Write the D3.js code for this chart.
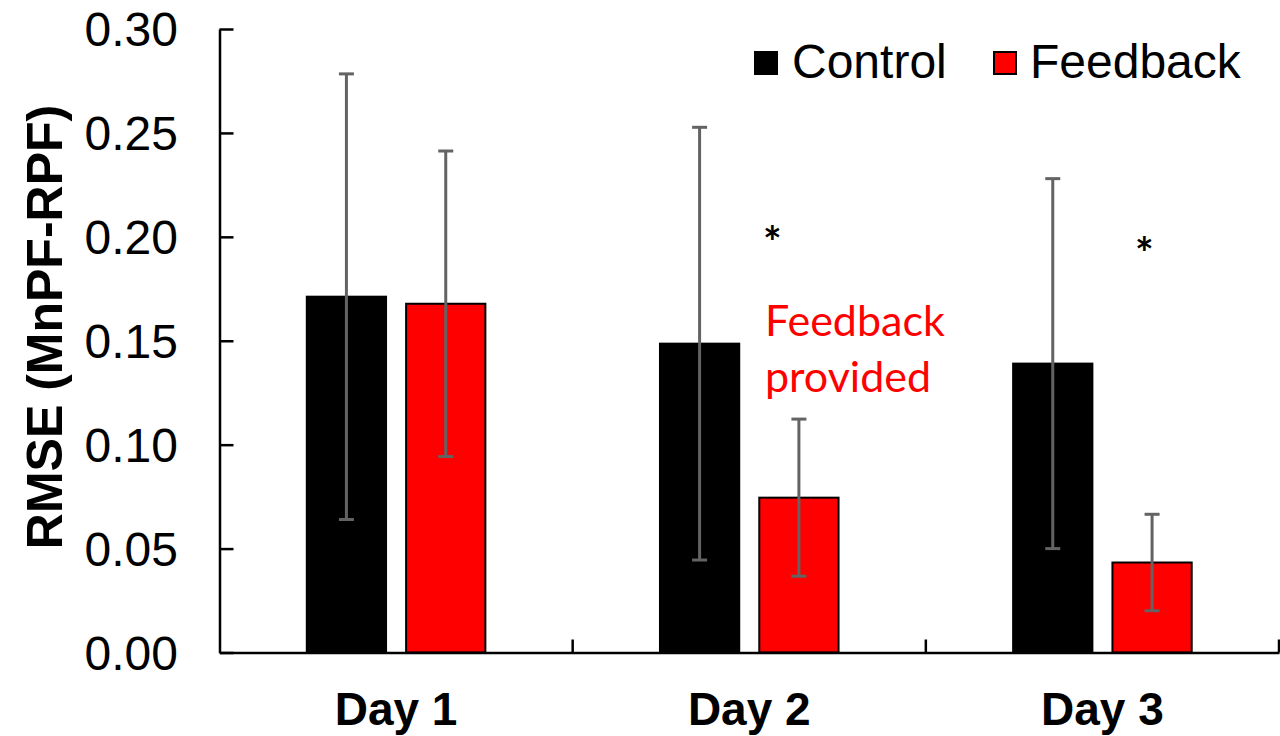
<!DOCTYPE html>
<html>
<head>
<meta charset="utf-8">
<script src="https://cdn.jsdelivr.net/npm/d3@7/dist/d3.min.js"></script>
<style>
  html, body { margin: 0; padding: 0; background: #fff; }
  svg { display: block; }
</style>
</head>
<body>
<svg id="chart" width="1280" height="736"></svg>
<script>
// RMSE per day for the two groups (mean and standard deviation)
const days = ["Day 1", "Day 2", "Day 3"];
const groups = ["Control", "Feedback"];
const controlMean = [0.1712, 0.1486, 0.1390];
const controlSD = [0.1072, 0.1041, 0.0890];
const feedbackMean = [0.1678, 0.0745, 0.0433];
const feedbackSD = [0.0735, 0.0378, 0.0232];
const yTicks = [0, 0.05, 0.10, 0.15, 0.20, 0.25, 0.30];
const starDays = ["Day 2", "Day 3"];
const starValues = [0.2030, 0.1978];

const colors = { Control: "#000000", Feedback: "#ff0000" };

const rows = [];
days.forEach((d, i) => {
  rows.push({ day: d, group: "Control", mean: controlMean[i], sd: controlSD[i] });
  rows.push({ day: d, group: "Feedback", mean: feedbackMean[i], sd: feedbackSD[i] });
});

const svg = d3.select("#chart");
const plotLeft = 219.5, plotRight = 1279, plotTop = 29, plotBottom = 652.5;

const x = d3.scaleBand().domain(days).range([plotLeft, plotRight]).padding(0);
const xInner = d3.scaleBand().domain(groups).range([0, x.bandwidth()])
  .paddingInner(0.202).paddingOuter(0.879);
const y = d3.scaleLinear().domain([0, 0.30]).range([plotBottom, plotTop]);

const axisFont = "'Liberation Sans', Arial, sans-serif";

// Bars
svg.append("g").selectAll("rect").data(rows).join("rect")
  .attr("x", d => x(d.day) + xInner(d.group))
  .attr("y", d => y(d.mean))
  .attr("width", xInner.bandwidth())
  .attr("height", d => y(0) - y(d.mean))
  .attr("fill", d => colors[d.group])
  .attr("stroke", "#000")
  .attr("stroke-width", 2);

// Error bars
const eb = svg.append("g").attr("stroke", "#636363").attr("stroke-width", 3);
rows.forEach(d => {
  const cx = x(d.day) + xInner(d.group) + xInner.bandwidth() / 2;
  const y1 = y(d.mean + d.sd), y0 = y(d.mean - d.sd);
  eb.append("line").attr("x1", cx).attr("x2", cx).attr("y1", y1).attr("y2", y0);
  eb.append("line").attr("x1", cx - 7.5).attr("x2", cx + 7.5).attr("y1", y1).attr("y2", y1);
  eb.append("line").attr("x1", cx - 7.5).attr("x2", cx + 7.5).attr("y1", y0).attr("y2", y0);
});

// Y axis (ticks pointing inward)
const yAxis = svg.append("g")
  .attr("transform", `translate(${plotLeft},0)`)
  .call(d3.axisRight(y).tickValues(yTicks).tickSize(14).tickSizeOuter(0).tickFormat(""));
yAxis.select(".domain").attr("stroke", "#000").attr("stroke-width", 2.5);
yAxis.selectAll(".tick line").attr("stroke", "#000").attr("stroke-width", 2.5);

svg.append("g").selectAll("text").data(yTicks).join("text")
  .attr("x", 178)
  .attr("y", d => y(d))
  .attr("dy", "0.36em")
  .attr("text-anchor", "end")
  .attr("font-family", axisFont)
  .attr("font-size", 48)
  .attr("fill", "#000")
  .text(d => d3.format(".2f")(d));

// X axis (ticks at category boundaries, pointing up)
const xAxis = svg.append("g")
  .attr("transform", `translate(0,${plotBottom})`)
  .call(d3.axisTop(x).tickSize(0).tickSizeOuter(0).tickFormat(""));
xAxis.select(".domain").attr("stroke", "#000").attr("stroke-width", 2.5);
xAxis.selectAll(".tick line").remove();
svg.append("g").selectAll("line").data(days).join("line")
  .attr("x1", d => x(d) + x.bandwidth())
  .attr("x2", d => x(d) + x.bandwidth())
  .attr("y1", plotBottom)
  .attr("y2", plotBottom - 13)
  .attr("stroke", "#000")
  .attr("stroke-width", 2.5);

svg.append("g").selectAll("text").data(days).join("text")
  .attr("x", d => x(d) + x.bandwidth() / 2)
  .attr("y", 725)
  .attr("text-anchor", "middle")
  .attr("font-family", axisFont)
  .attr("font-weight", "bold")
  .attr("font-size", 46)
  .attr("fill", "#000")
  .text(d => d);

// Y axis title
svg.append("text")
  .attr("transform", "translate(62,327) rotate(-90)")
  .attr("text-anchor", "middle")
  .attr("font-family", axisFont)
  .attr("font-weight", "bold")
  .attr("font-size", 50)
  .attr("fill", "#000")
  .text("RMSE (MnPF-RPF)");

// Legend
const legendItems = [
  { name: "Control", sx: 755, tx: 792 },
  { name: "Feedback", sx: 994, tx: 1030 }
];
const lg = svg.append("g");
legendItems.forEach(it => {
  lg.append("rect")
    .attr("x", it.sx).attr("y", 52).attr("width", 22).attr("height", 22)
    .attr("fill", colors[it.name]).attr("stroke", "#000").attr("stroke-width", 2);
  lg.append("text")
    .attr("x", it.tx).attr("y", 78)
    .attr("font-family", axisFont)
    .attr("font-size", 48)
    .attr("fill", "#000")
    .text(it.name);
});

// Significance markers
const starOffset = { "Day 2": 23, "Day 3": 42 };
svg.append("g").selectAll("text").data(starDays).join("text")
  .attr("x", (d) => x(d) + x.bandwidth() / 2 + starOffset[d])
  .attr("y", (d, i) => y(starValues[i]))
  .attr("dy", "0.62em")
  .attr("text-anchor", "middle")
  .attr("font-family", "Lato, 'Open Sans', sans-serif")
  .attr("font-weight", "bold")
  .attr("font-size", 44)
  .attr("fill", "#000")
  .text("*");

// Annotation
const note = svg.append("text")
  .attr("font-family", "Lato, 'Open Sans', sans-serif")
  .attr("font-size", 43)
  .attr("fill", "#ff0000");
note.append("tspan").attr("x", 765).attr("y", 336).text("Feedback");
note.append("tspan").attr("x", 765).attr("y", 392).text("provided");
</script>
</body>
</html>
